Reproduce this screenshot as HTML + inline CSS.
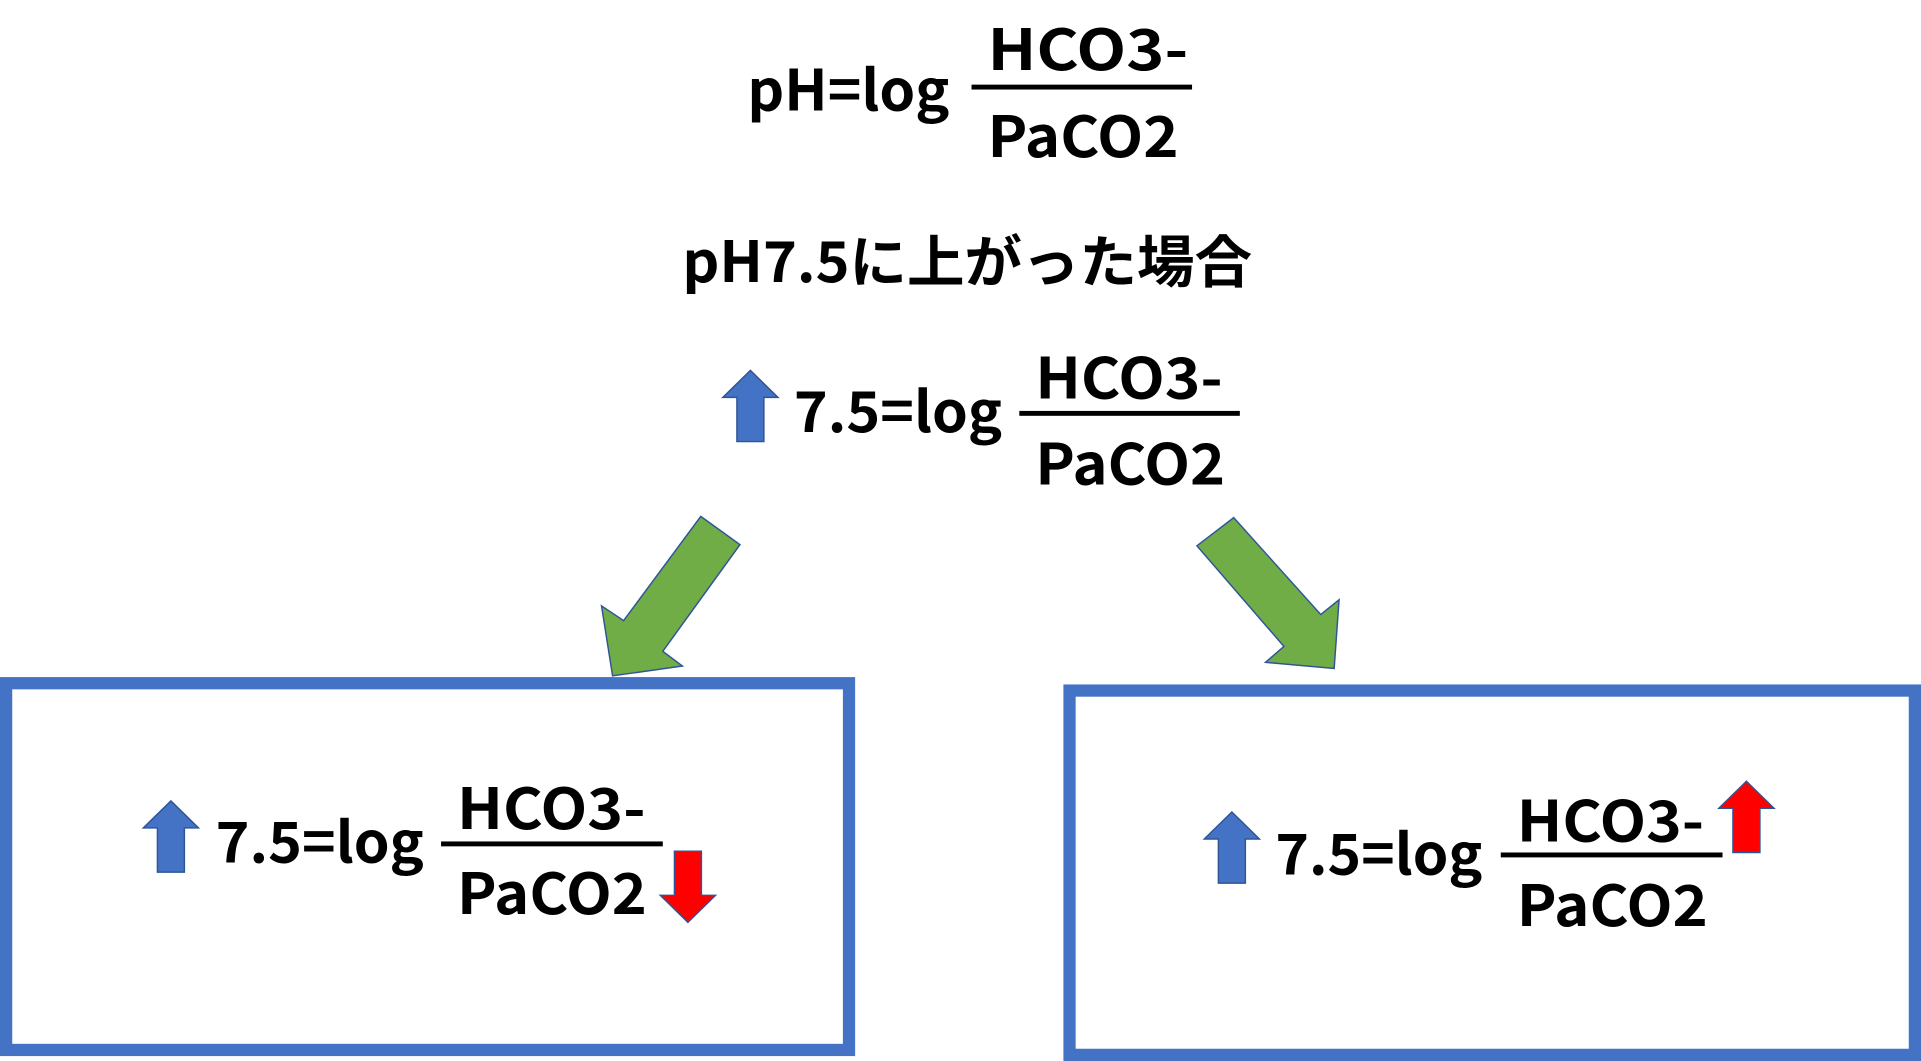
<!DOCTYPE html>
<html><head><meta charset="utf-8"><style>
html,body{margin:0;padding:0;background:#fff;}
svg{display:block;}
text{font-family:"Liberation Sans","Noto Sans CJK JP",sans-serif;font-weight:bold;fill:#000;}
</style></head><body>
<svg width="1921" height="1061" viewBox="0 0 1568 865" preserveAspectRatio="none" xmlns="http://www.w3.org/2000/svg">
<rect width="1568" height="865" fill="#fff"/>
<!-- title formula -->
<g font-size="46">
<text x="610" y="90" textLength="165" lengthAdjust="spacingAndGlyphs" style="font-family:'Noto Sans CJK JP',sans-serif">pH=log</text>
<text x="806" y="57" textLength="164" lengthAdjust="spacingAndGlyphs" style="font-family:'Noto Sans CJK JP',sans-serif">HCO3-</text>
<rect x="793" y="69" width="180" height="4" fill="#000"/>
<text x="806" y="128" textLength="156" lengthAdjust="spacingAndGlyphs" style="font-family:'Noto Sans CJK JP',sans-serif">PaCO2</text>
<text x="557" y="230" textLength="465" lengthAdjust="spacingAndGlyphs" style="font-family:'Noto Sans CJK JP',sans-serif">pH7.5に上がった場合</text>
</g>
<defs>
<path id="up" d="M22.5 0 L45 22 L33.5 22 L33.5 58 L11.5 58 L11.5 22 L0 22 Z" fill="#4472c4" stroke="#2f5597" stroke-width="1.2"/>
<path id="upr" d="M22.5 0 L45 22 L33.5 22 L33.5 58 L11.5 58 L11.5 22 L0 22 Z" fill="#ff0000" stroke="#2f5597" stroke-width="1.2"/>
</defs>
<!-- middle formula -->
<use href="#up" x="590" y="302"/>
<g font-size="46" style="font-family:'Noto Sans CJK JP',sans-serif">
<text x="648" y="352" textLength="170" lengthAdjust="spacingAndGlyphs" style="font-family:'Noto Sans CJK JP',sans-serif">7.5=log</text>
<text x="845" y="325" textLength="153" lengthAdjust="spacingAndGlyphs" style="font-family:'Noto Sans CJK JP',sans-serif">HCO3-</text>
<rect x="832" y="335" width="180" height="4" fill="#000"/>
<text x="845" y="395" textLength="155" lengthAdjust="spacingAndGlyphs" style="font-family:'Noto Sans CJK JP',sans-serif">PaCO2</text>
</g>
<!-- green arrows -->
<polygon points="572,421 604,444 541,531 557,543 500,551 491,494 509,506" fill="#70ad47" stroke="#2f5597" stroke-width="1.2"/>
<polygon points="977,445 1007,422 1078,501 1093,489 1089,545 1033,540 1048,527" fill="#70ad47" stroke="#2f5597" stroke-width="1.2"/>
<!-- boxes -->
<rect x="5" y="557" width="688" height="299" fill="none" stroke="#4472c4" stroke-width="10"/>
<rect x="873" y="563" width="690" height="297" fill="none" stroke="#4472c4" stroke-width="10"/>
<!-- left box content -->
<use href="#up" x="117" y="653"/>
<text x="176" y="703" font-size="46" textLength="170" lengthAdjust="spacingAndGlyphs" style="font-family:'Noto Sans CJK JP',sans-serif">7.5=log</text>
<text x="373" y="676" font-size="46" textLength="154" lengthAdjust="spacingAndGlyphs" style="font-family:'Noto Sans CJK JP',sans-serif">HCO3-</text>
<rect x="360" y="686" width="181" height="4" fill="#000"/>
<text x="373" y="745" font-size="46" textLength="155" lengthAdjust="spacingAndGlyphs" style="font-family:'Noto Sans CJK JP',sans-serif">PaCO2</text>
<use href="#upr" transform="translate(584,752) rotate(180)"/>
<!-- right box content -->
<use href="#up" x="983" y="662"/>
<text x="1041" y="713" font-size="46" textLength="169" lengthAdjust="spacingAndGlyphs" style="font-family:'Noto Sans CJK JP',sans-serif">7.5=log</text>
<text x="1238" y="686" font-size="46" textLength="153" lengthAdjust="spacingAndGlyphs" style="font-family:'Noto Sans CJK JP',sans-serif">HCO3-</text>
<rect x="1225" y="695" width="181" height="4" fill="#000"/>
<text x="1238" y="755" font-size="46" textLength="156" lengthAdjust="spacingAndGlyphs" style="font-family:'Noto Sans CJK JP',sans-serif">PaCO2</text>
<use href="#upr" x="1403" y="637"/>
</svg>
</body></html>
